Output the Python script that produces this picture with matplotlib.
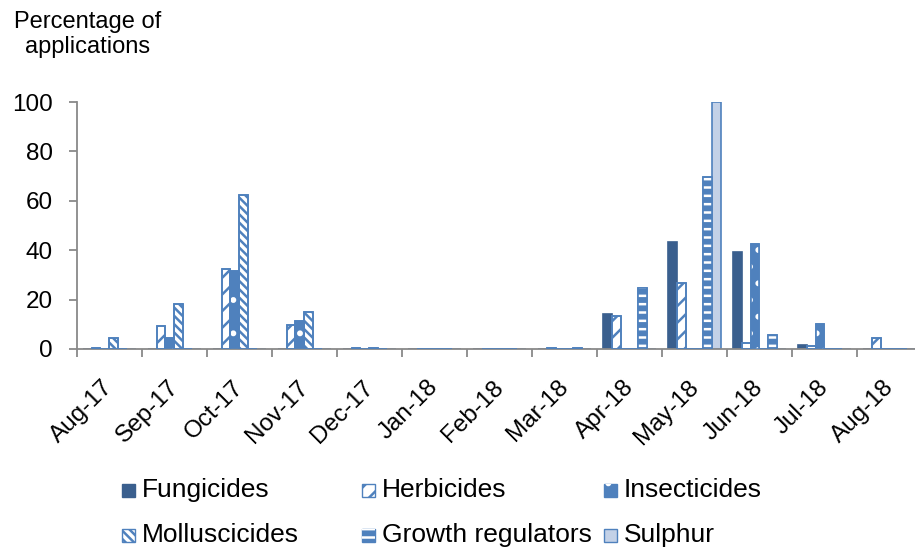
import numpy as np
import matplotlib
matplotlib.use("Agg")
import matplotlib.pyplot as plt
from matplotlib.patches import Rectangle
from matplotlib.transforms import ScaledTranslation

plt.rcParams["font.family"] = ["Liberation Sans", "DejaVu Sans"]

# ── Data (percentage of applications) ───────────────────────────────────────
months = ["Aug-17", "Sep-17", "Oct-17", "Nov-17", "Dec-17", "Jan-18", "Feb-18",
          "Mar-18", "Apr-18", "May-18", "Jun-18", "Jul-18", "Aug-18"]

fungicides = [0, 0, 0, 0, 0, 0, 0, 0, 14.2, 43.4, 39.4, 1.6, 0]
herbicides = [0.3, 9.3, 32.3, 9.7, 0.5, 0, 0, 0.3, 13.4, 26.6, 2.6, 1.2, 4.5]
insecticides = [0, 4.5, 31.7, 11.5, 0, 0, 0, 0, 0, 0, 42.5, 10.2, 0]
molluscicides = [4.5, 18.2, 62.5, 14.9, 0.3, 0, 0, 0, 0, 0, 0, 0, 0]
growth_regulators = [0, 0, 0, 0, 0, 0, 0, 0.3, 24.7, 69.5, 5.7, 0, 0]
sulphur = [0, 0, 0, 0, 0, 0, 0, 0, 0, 100, 0, 0, 0]

# ── Styles: (label, values, face, edge, hatch, hatch colour) ────────────────
BLUE = "#4F81BD"
DARK = "#3A5F8E"
LIGHT = "#C3D1E7"
series = [
    ("Fungicides", fungicides, DARK, DARK, None, None),
    ("Herbicides", herbicides, "white", BLUE, "//", BLUE),
    ("Insecticides", insecticides, BLUE, BLUE, ".", "white"),
    ("Molluscicides", molluscicides, "white", BLUE, "\\\\\\\\", BLUE),
    ("Growth regulators", growth_regulators, BLUE, BLUE, "--", "white"),
    ("Sulphur", sulphur, LIGHT, BLUE, None, None),
]

plt.rcParams["hatch.linewidth"] = 1.8

fig = plt.figure(figsize=(9.15, 5.55), dpi=100)
ax = fig.add_axes([0.0838, 0.3712, 0.9238, 0.445])

x = np.arange(len(months))
w = 0.135
for i, (label, vals, face, edge, hatch, hcol) in enumerate(series):
    pos = x + (i - 2.5) * w
    ax.bar(pos, vals, width=w, color=face, edgecolor=edge, linewidth=1.2, zorder=2)
    if hatch:
        ax.bar(pos, vals, width=w, facecolor="none", edgecolor=hcol,
               hatch=hatch, linewidth=0, zorder=3)
        ax.bar(pos, vals, width=w, facecolor="none", edgecolor=edge,
               linewidth=1.2, zorder=4)

# ── Axes styling ────────────────────────────────────────────────────────────
grey = "#898989"
ax.set_xlim(-0.5, len(months) - 0.5)
ax.set_ylim(0, 100)
ax.set_yticks(range(0, 101, 20))
ax.tick_params(axis="y", labelsize=17.5, length=6, width=1.3, color=grey,
               direction="out", pad=11)
ax.set_xticks(x, months)
ax.set_xticks(np.arange(-0.5, len(months)), minor=True)
ax.tick_params(axis="x", which="major", length=0, labelsize=17.5, pad=16)
ax.tick_params(axis="x", which="minor", length=6, width=1.3, color=grey,
               direction="out")
shift = ScaledTranslation(-7 / 100, -5 / 100, fig.dpi_scale_trans)
for lab in ax.get_xticklabels():
    lab.set_rotation(45)
    lab.set_ha("right")
    lab.set_rotation_mode("anchor")
    lab.set_transform(lab.get_transform() + shift)
for s in ["top", "right"]:
    ax.spines[s].set_visible(False)
for s in ["left", "bottom"]:
    ax.spines[s].set_color(grey)
    ax.spines[s].set_linewidth(1.3)

fig.text(88 / 915, 1 - 53 / 555, "Percentage of\napplications", fontsize=17,
         ha="center", va="baseline", linespacing=1.2)

# ── Legend (drawn by hand to match the fixed column layout) ────────────────
cols = [122, 362, 604]
rows = [490, 535]
sq = 13
for k, (label, vals, face, edge, hatch, hcol) in enumerate(series):
    cx = cols[k % 3]
    cy = rows[k // 3]
    x0 = cx / 915
    y0 = 1 - (cy + sq / 2) / 555
    fig.add_artist(Rectangle((x0, y0), sq / 915, sq / 555, transform=fig.transFigure,
                             facecolor=face, edgecolor=edge, linewidth=1.0))
    if hatch:
        fig.add_artist(Rectangle((x0, y0), sq / 915, sq / 555, transform=fig.transFigure,
                                 facecolor="none", edgecolor=hcol, hatch=hatch,
                                 linewidth=0))
    fig.text((cx + 20) / 915, 1 - cy / 555, label, fontsize=19, va="center",
             ha="left")

fig.savefig("out.png", dpi=100)
